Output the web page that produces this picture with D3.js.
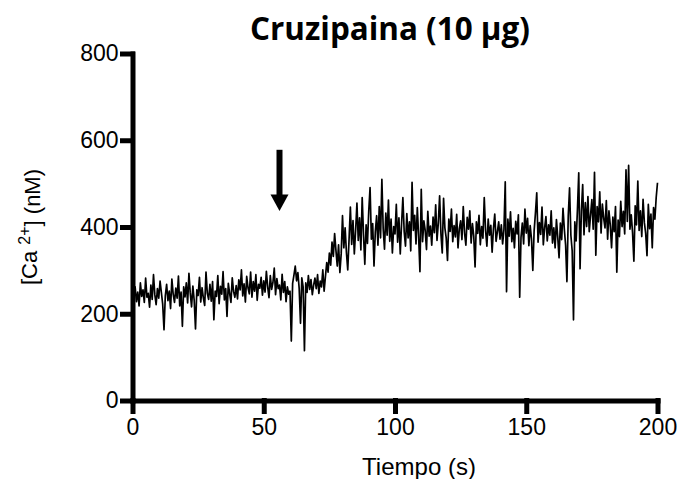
<!DOCTYPE html>
<html>
<head>
<meta charset="utf-8">
<script src="https://cdn.jsdelivr.net/npm/d3@7"></script>
<style>
    body { margin: 0; background: #fff; }
    .axis path, .axis line { stroke: #000; stroke-width: 5; stroke-linecap: square; }
    .axis text { font-family: "Liberation Sans", Arial, sans-serif; font-size: 23px; fill: #000; }
</style>
</head>
<body>
<div id="chart"></div>
<script>

// Seconds between two samples of the recording.
const sampleStep = 0.5;

// [Ca2+] (nM), one value every 0.5 s.
const ca0to50 = [
    310, 235, 262, 228, 250, 218, 271, 240, 255, 226, 282, 238, 247, 215, 266, 233, 290, 244, 221, 258,
    236, 275, 249, 222, 163, 241, 268, 230, 252, 212, 280, 245, 226, 259, 236, 287, 218, 250, 171, 262,
    239, 271, 225, 293, 248, 216, 264, 231, 165, 255, 242, 284, 227, 260, 236, 219, 296, 247, 233, 268,
    229, 274, 186, 252, 240, 288, 223, 263, 245, 297, 232, 258, 194, 270, 247, 226, 283, 251, 238, 265,
    234, 278, 255, 301, 241, 269, 227, 286, 260, 246, 296, 238, 274, 252, 290, 231, 268, 259, 284, 243
];

const ca50to100 = [
    276, 250, 298, 262, 237, 288, 256, 272, 305, 244, 281, 258, 266, 232, 291, 249, 274, 228, 262, 245,
    252, 137, 270, 289, 310, 276, 295, 258, 178, 283, 262, 115, 271, 249, 288, 256, 279, 244, 266, 282,
    258, 290, 247, 275, 262, 301, 252, 286, 318, 296, 340, 312, 365, 332, 385, 346, 310, 359, 295, 338,
    426, 352, 398, 341, 301, 372, 446, 360, 415, 338, 392, 455, 369, 421, 347, 468, 383, 314, 405, 362,
    437, 491, 372, 408, 310, 389, 426, 358, 447, 375, 510, 396, 349, 432, 381, 462, 367, 418, 340, 401
];

const ca100to150 = [
    384, 452, 365, 421, 338, 407, 468, 389, 356, 431, 375, 412, 345, 503, 392, 427, 361, 445, 378, 297,
    487, 366, 414, 392, 348, 436, 379, 402, 358, 423, 387, 451, 369, 409, 472, 384, 340, 466, 398, 375,
    323, 418, 390, 441, 366, 403, 377, 429, 352, 396, 414, 371, 447, 386, 358, 422, 395, 437, 363, 408,
    379, 308, 412, 385, 427, 359, 401, 374, 468, 392, 356, 418, 381, 404, 342, 396, 430, 367, 389, 412,
    372, 405, 361, 394, 504, 251, 418, 379, 435, 366, 397, 352, 413, 384, 428, 238, 376, 409, 361, 441
];

const ca150to200 = [
    386, 420, 357, 403, 372, 300, 391, 432, 479, 365, 410, 383, 446, 359, 398, 424, 368, 405, 381, 437,
    363, 398, 352, 417, 376, 329, 409, 371, 443, 395, 358, 274, 426, 490, 381, 345, 186, 412, 368, 440,
    525, 304, 437, 498, 382, 456, 401, 470, 389, 428, 463, 395, 526, 335, 447, 412, 481, 386, 453, 420,
    398, 461, 372, 437, 405, 352, 423, 389, 447, 296, 416, 378, 459, 401, 436, 384, 532, 413, 542, 395,
    428, 387, 321, 449, 405, 506, 392, 437, 378, 464, 410, 385, 334, 452, 396, 430, 352, 445, 418, 468, 502
];

const xTicks = [0, 50, 100, 150, 200];
const yTicks = [0, 200, 400, 600, 800];

// Arrow marking the addition of cruzipain (time in s, values in nM).
const arrowTime = 56;
const arrowTop = 578;
const arrowHeadBase = 475;
const arrowTip = 437;

const titleText = "Cruzipaina (10 µg)";
const xLabel = "Tiempo (s)";

const width = 677;
const height = 479;

const margin = {
    top: 53.5,
    left: 132.5,
    bottom: 78.5,
    right: 19.5
};

const trace = ca0to50.concat(ca50to100, ca100to150, ca150to200);

const x = d3.scaleLinear()
    .domain([0, 200])
    .range([margin.left, width - margin.right]);

const y = d3.scaleLinear()
    .domain([0, 800])
    .range([height - margin.bottom, margin.top]);

const svg = d3.select("#chart").append("svg")
    .attr("width", width)
    .attr("height", height);

// Trace
const line = d3.line()
    .x((d, i) => x(i * sampleStep))
    .y(d => y(d));

svg.append("path")
    .attr("d", line(trace))
    .attr("fill", "none")
    .attr("stroke", "#000")
    .attr("stroke-width", 1.7)
    .attr("stroke-linejoin", "round");

// Axes
svg.append("g")
    .attr("class", "x axis")
    .attr("transform", `translate(0, ${y(0)})`)
    .call(d3.axisBottom(x).tickValues(xTicks).tickSize(11).tickSizeOuter(0).tickPadding(7));

svg.append("g")
    .attr("class", "y axis")
    .attr("transform", `translate(${x(0)}, 0)`)
    .call(d3.axisLeft(y).tickValues(yTicks).tickSize(10).tickSizeOuter(0).tickPadding(4));

// Arrow
const ax = x(arrowTime);
svg.append("line")
    .attr("x1", ax).attr("x2", ax)
    .attr("y1", y(arrowTop)).attr("y2", y(arrowHeadBase) + 1)
    .attr("stroke", "#000")
    .attr("stroke-width", 6);

svg.append("path")
    .attr("d", `M${ax - 9},${y(arrowHeadBase)} L${ax + 9},${y(arrowHeadBase)} L${ax},${y(arrowTip)} Z`)
    .attr("fill", "#000");

// Title, sized so it spans the same width as in the figure.
const title = svg.append("text")
    .attr("x", 390)
    .attr("y", 40)
    .attr("text-anchor", "middle")
    .style("font-family", "'Open Sans', Lato, sans-serif")
    .style("font-weight", "bold")
    .style("font-size", "28px")
    .text(titleText);

const titleWidth = title.node().getComputedTextLength();
title.style("font-size", (28 * 280 / titleWidth) + "px");

// Axis labels
svg.append("text")
    .attr("x", x(100) + 24)
    .attr("y", 475)
    .attr("text-anchor", "middle")
    .style("font-family", "'Liberation Sans', Arial, sans-serif")
    .style("font-size", "24px")
    .text(xLabel);

const yLab = svg.append("text")
    .attr("transform", `translate(37, 227) rotate(-90)`)
    .attr("text-anchor", "middle")
    .style("font-family", "'Liberation Sans', Arial, sans-serif")
    .style("font-size", "22px");

yLab.append("tspan").text("[Ca ");
yLab.append("tspan").attr("dy", "-0.45em").style("font-size", "16px").text("2+");
yLab.append("tspan").attr("dy", "0.45em").text("] (nM)");

</script>
</body>
</html>
